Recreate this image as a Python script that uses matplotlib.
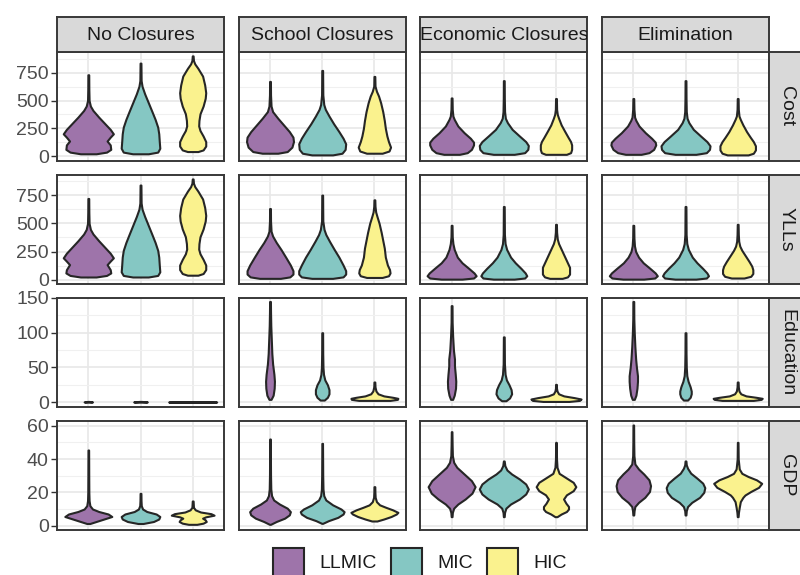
import matplotlib
matplotlib.use('Agg')
import matplotlib.pyplot as plt
from matplotlib.patches import Rectangle
import numpy as np

plt.rcParams['font.family'] = ['Liberation Sans', 'DejaVu Sans']

scenarios = ['No Closures', 'School Closures', 'Economic Closures', 'Elimination']
metrics = ['Cost', 'YLLs', 'Education', 'GDP']
groups = ['LLMIC', 'MIC', 'HIC']
colors = ['#9E74AA', '#85C7C3', '#FAF28E']

# violin outlines: y levels and half-widths (x units), per group
cost_nc_y = [[20, 35, 60, 100, 135, 170, 200, 240, 290, 350, 410, 450, 500, 600, 732],
             [20, 35, 70, 130, 200, 260, 330, 400, 480, 560, 628, 680, 760, 837],
             [40, 55, 90, 130, 180, 230, 271, 320, 380, 450, 520, 570, 640, 720, 790, 830, 860, 902]]
cost_nc_w = [[0.15, 0.35, 0.43, 0.42, 0.36, 0.42, 0.48, 0.42, 0.32, 0.2, 0.09, 0.04, 0.015, 0.01, 0.008],
             [0.15, 0.33, 0.37, 0.36, 0.35, 0.33, 0.28, 0.22, 0.15, 0.08, 0.03, 0.012, 0.01, 0.008],
             [0.1, 0.2, 0.25, 0.25, 0.2, 0.14, 0.115, 0.12, 0.14, 0.2, 0.24, 0.25, 0.23, 0.19, 0.1, 0.04, 0.015, 0.008]]
cost_sc_y = [[25, 40, 80, 130, 170, 220, 280, 340, 400, 450, 550, 672],
             [10, 25, 60, 110, 160, 220, 290, 360, 420, 464, 550, 650, 771],
             [25, 45, 80, 130, 180, 250, 320, 400, 480, 540, 583, 630, 717]]
cost_sc_w = [[0.15, 0.33, 0.42, 0.45, 0.44, 0.37, 0.26, 0.15, 0.05, 0.02, 0.01, 0.008],
             [0.2, 0.38, 0.44, 0.45, 0.4, 0.32, 0.22, 0.13, 0.06, 0.03, 0.012, 0.01, 0.008],
             [0.15, 0.28, 0.31, 0.27, 0.24, 0.21, 0.19, 0.16, 0.12, 0.08, 0.04, 0.012, 0.008]]
cost_ec_y = [[15, 30, 60, 100, 125, 160, 210, 270, 330, 360, 420, 523],
             [15, 30, 60, 95, 130, 180, 240, 300, 340, 400, 520, 679],
             [15, 30, 60, 100, 130, 170, 220, 280, 340, 375, 420, 518]]
cost_ec_w = [[0.15, 0.3, 0.38, 0.42, 0.42, 0.36, 0.24, 0.12, 0.05, 0.025, 0.012, 0.008],
             [0.2, 0.4, 0.46, 0.47, 0.42, 0.3, 0.16, 0.07, 0.03, 0.015, 0.01, 0.008],
             [0.2, 0.28, 0.3, 0.3, 0.28, 0.23, 0.17, 0.1, 0.05, 0.025, 0.012, 0.008]]
cost_el_y = [[15, 30, 60, 100, 125, 160, 210, 270, 320, 350, 420, 518],
             [15, 30, 60, 92, 130, 180, 240, 300, 340, 400, 520, 679],
             [10, 25, 55, 92, 130, 170, 220, 280, 330, 360, 420, 518]]
cost_el_w = [[0.15, 0.3, 0.39, 0.43, 0.42, 0.35, 0.23, 0.11, 0.05, 0.025, 0.012, 0.008],
             [0.2, 0.4, 0.46, 0.47, 0.41, 0.29, 0.15, 0.065, 0.03, 0.015, 0.01, 0.008],
             [0.2, 0.3, 0.34, 0.34, 0.3, 0.24, 0.17, 0.1, 0.05, 0.025, 0.012, 0.008]]

yll_nc_y = [[24, 38, 60, 89, 134, 165, 194, 235, 285, 345, 405, 446, 500, 600, 720],
            [24, 38, 70, 130, 200, 260, 330, 400, 480, 560, 625, 680, 760, 839],
            [40, 55, 90, 130, 180, 230, 271, 320, 380, 450, 520, 570, 640, 715, 785, 825, 855, 893]]
yll_nc_w = cost_nc_w
yll_sc_y = [[12, 25, 50, 80, 130, 200, 268, 330, 387, 430, 520, 631],
            [12, 25, 50, 80, 130, 200, 268, 340, 400, 446, 520, 620, 750],
            [20, 35, 60, 90, 130, 200, 280, 350, 420, 500, 560, 600, 650, 708]]
yll_sc_w = [[0.2, 0.38, 0.44, 0.44, 0.39, 0.3, 0.21, 0.12, 0.05, 0.02, 0.01, 0.008],
            [0.2, 0.4, 0.45, 0.45, 0.4, 0.32, 0.23, 0.14, 0.07, 0.035, 0.012, 0.01, 0.008],
            [0.15, 0.27, 0.3, 0.29, 0.25, 0.21, 0.19, 0.16, 0.13, 0.09, 0.05, 0.025, 0.012, 0.008]]
yll_ec_y = [[5, 15, 35, 60, 100, 150, 200, 268, 320, 380, 482],
            [5, 15, 35, 60, 100, 150, 200, 268, 320, 400, 520, 649],
            [12, 25, 50, 80, 110, 150, 200, 260, 320, 360, 420, 491]]
yll_ec_w = [[0.2, 0.42, 0.47, 0.43, 0.33, 0.2, 0.11, 0.05, 0.025, 0.012, 0.008],
            [0.2, 0.4, 0.44, 0.41, 0.33, 0.22, 0.13, 0.055, 0.025, 0.012, 0.01, 0.008],
            [0.12, 0.22, 0.26, 0.26, 0.26, 0.22, 0.17, 0.11, 0.05, 0.025, 0.012, 0.008]]
yll_el_y = [[5, 15, 35, 60, 100, 150, 200, 250, 300, 370, 482],
            [5, 15, 35, 60, 100, 150, 200, 268, 320, 400, 520, 649],
            [15, 30, 55, 89, 120, 160, 210, 260, 298, 340, 400, 491]]
yll_el_w = [[0.2, 0.41, 0.46, 0.42, 0.32, 0.19, 0.1, 0.045, 0.022, 0.012, 0.008],
            [0.2, 0.4, 0.44, 0.41, 0.33, 0.22, 0.13, 0.055, 0.025, 0.012, 0.01, 0.008],
            [0.12, 0.25, 0.29, 0.29, 0.27, 0.22, 0.15, 0.08, 0.04, 0.02, 0.012, 0.008]]

edu_nc_y = [[0, 0.3, 0.6, 1.0], [0, 0.3, 0.6, 1.0], [0, 0.2, 0.4]]
edu_nc_w = [[0.05, 0.08, 0.06, 0.01], [0.1, 0.13, 0.1, 0.02], [0.44, 0.46, 0.3]]
edu_sc_y = [[4, 10, 20, 30, 40, 55, 70, 90, 110, 130, 145],
            [3, 7, 12, 18, 25, 32, 40, 50, 70, 100],
            [2.5, 4, 5.5, 7, 9, 12, 16, 22, 29]]
edu_sc_w = [[0.02, 0.06, 0.08, 0.085, 0.075, 0.05, 0.035, 0.025, 0.015, 0.01, 0.008],
            [0.04, 0.1, 0.13, 0.13, 0.1, 0.05, 0.025, 0.015, 0.01, 0.008],
            [0.3, 0.44, 0.45, 0.35, 0.18, 0.07, 0.03, 0.012, 0.008]]
edu_ec_y = [[4, 10, 20, 30, 40, 52, 62, 75, 95, 115, 139],
            [2, 6, 12, 18, 25, 32, 40, 55, 75, 94],
            [1, 2.5, 4.5, 6.5, 9, 12, 16, 20, 25.6]]
edu_ec_w = [[0.02, 0.05, 0.075, 0.08, 0.07, 0.055, 0.055, 0.035, 0.02, 0.01, 0.008],
            [0.04, 0.11, 0.15, 0.14, 0.1, 0.05, 0.025, 0.012, 0.01, 0.008],
            [0.25, 0.45, 0.48, 0.35, 0.15, 0.05, 0.02, 0.01, 0.008]]
edu_el_y = [[4, 10, 20, 30, 38, 50, 62, 80, 100, 120, 145],
            [3, 7, 12, 16, 22, 30, 38, 50, 70, 100],
            [2.5, 4, 5.5, 7, 9, 12, 16, 22, 29]]
edu_el_w = [[0.02, 0.05, 0.07, 0.08, 0.08, 0.06, 0.045, 0.03, 0.018, 0.01, 0.008],
            [0.04, 0.09, 0.11, 0.11, 0.09, 0.05, 0.025, 0.015, 0.01, 0.008],
            [0.3, 0.45, 0.47, 0.35, 0.16, 0.06, 0.025, 0.012, 0.008]]

gdp_nc_y = [[1.3, 2.5, 4, 5.5, 7, 8.5, 10, 12, 15, 20, 30, 45.4],
            [1.3, 2.5, 4, 5.5, 7, 8.5, 10, 12, 15, 19.4],
            [0.8, 1.5, 2.5, 3.5, 4.5, 5.3, 6.3, 7.2, 8.2, 9.5, 11, 14.8]]
gdp_nc_w = [[0.03, 0.15, 0.3, 0.45, 0.38, 0.2, 0.08, 0.03, 0.015, 0.01, 0.008, 0.006],
            [0.05, 0.25, 0.35, 0.37, 0.3, 0.12, 0.04, 0.015, 0.01, 0.008],
            [0.08, 0.2, 0.26, 0.24, 0.19, 0.25, 0.41, 0.35, 0.15, 0.05, 0.015, 0.008]]
gdp_sc_y = [[0.8, 2.5, 4.5, 6.5, 8.4, 10.5, 13, 15.4, 18, 22, 30, 40, 52],
            [1.4, 3, 5, 7, 8.4, 10, 12.5, 15.4, 18, 22, 30, 40, 49.4],
            [2.8, 4, 5.5, 7, 8, 9.5, 11, 12.5, 14.4, 17, 20, 23.4]]
gdp_sc_w = [[0.01, 0.12, 0.28, 0.37, 0.39, 0.33, 0.18, 0.07, 0.03, 0.015, 0.01, 0.008, 0.006],
            [0.01, 0.12, 0.3, 0.4, 0.42, 0.36, 0.2, 0.07, 0.03, 0.015, 0.01, 0.008, 0.006],
            [0.05, 0.18, 0.32, 0.42, 0.45, 0.35, 0.22, 0.1, 0.04, 0.015, 0.01, 0.008]]
gdp_ec_y = [[5.4, 8, 10.5, 13, 16, 19.5, 23.4, 27, 31, 35, 38, 42, 48, 56.4],
            [5.4, 8, 10.5, 13, 16, 19, 22, 25, 28, 31, 33.4, 36, 38.8],
            [5.4, 7, 8.5, 10, 11.5, 13.5, 16, 18.5, 21, 23.4, 26, 29, 31.4, 35, 40, 50]]
gdp_ec_w = [[0.008, 0.015, 0.04, 0.12, 0.26, 0.39, 0.45, 0.38, 0.24, 0.1, 0.04, 0.015, 0.01, 0.006],
            [0.008, 0.015, 0.04, 0.13, 0.3, 0.42, 0.47, 0.42, 0.3, 0.15, 0.06, 0.02, 0.008],
            [0.02, 0.1, 0.2, 0.24, 0.24, 0.19, 0.145, 0.2, 0.33, 0.38, 0.33, 0.18, 0.06, 0.02, 0.01, 0.006]]
gdp_el_y = [[6.4, 9, 11.5, 14, 17, 20.5, 24, 27.5, 31, 34, 37, 42, 50, 60.4],
            [6.4, 9, 11.5, 14, 17, 20, 22.8, 25.5, 28.5, 31.5, 34.4, 36.5, 38.8],
            [5.4, 8, 11, 14.4, 17, 18.4, 20.5, 23, 25.4, 27.5, 29.5, 31.4, 34, 40, 50]]
gdp_el_w = [[0.008, 0.015, 0.03, 0.1, 0.22, 0.31, 0.33, 0.3, 0.2, 0.1, 0.03, 0.012, 0.008, 0.006],
            [0.008, 0.015, 0.04, 0.12, 0.27, 0.35, 0.37, 0.33, 0.22, 0.1, 0.04, 0.015, 0.008],
            [0.008, 0.015, 0.03, 0.05, 0.1, 0.14, 0.25, 0.4, 0.46, 0.36, 0.2, 0.08, 0.03, 0.01, 0.006]]

panels = [
    [(cost_nc_y, cost_nc_w), (cost_sc_y, cost_sc_w), (cost_ec_y, cost_ec_w), (cost_el_y, cost_el_w)],
    [(yll_nc_y, yll_nc_w), (yll_sc_y, yll_sc_w), (yll_ec_y, yll_ec_w), (yll_el_y, yll_el_w)],
    [(edu_nc_y, edu_nc_w), (edu_sc_y, edu_sc_w), (edu_ec_y, edu_ec_w), (edu_el_y, edu_el_w)],
    [(gdp_nc_y, gdp_nc_w), (gdp_sc_y, gdp_sc_w), (gdp_ec_y, gdp_ec_w), (gdp_el_y, gdp_el_w)],
]

row_ylim = [(-45, 937), (-38, 928), (-7, 150), (-2.6, 62.8)]
row_ticks = [[0, 250, 500, 750], [0, 250, 500, 750], [0, 50, 100, 150], [0, 20, 40, 60]]
row_minor = [[125, 375, 625, 875], [125, 375, 625, 875], [25, 75, 125], [10, 30, 50]]

W, H = 800, 575
fig = plt.figure(figsize=(W / 100, H / 100), dpi=100)
fig.patch.set_facecolor('white')

def rect(x, y, w, h):
    return [x / W, 1 - (y + h) / H, w / W, h / H]

col_left = [57, 238.7, 420.3, 602]
row_top = [52, 175, 298, 421]
pw, ph = 167, 109
strip = 35
border = '#383838'
fs = 14

for r in range(4):
    for c in range(4):
        ax = fig.add_axes(rect(col_left[c], row_top[r], pw, ph))
        ax.set_xlim(0.4, 3.6)
        ax.set_ylim(*row_ylim[r])
        ax.set_yticks(row_ticks[r])
        ax.set_yticks(row_minor[r], minor=True)
        ax.set_xticks([1, 2, 3])
        ax.grid(True, which='major', color='#E8E8E8', linewidth=1.2, zorder=0)
        ax.grid(True, which='minor', axis='y', color='#F0F0F0', linewidth=0.8, zorder=0)
        ax.set_axisbelow(True)
        ys, ws = panels[r][c]
        stats = []
        for yv, wv in zip(ys, ws):
            stats.append({'coords': yv, 'vals': wv, 'mean': np.mean(yv),
                          'median': np.median(yv), 'min': min(yv), 'max': max(yv)})
        widths = [2 * max(wv) for wv in ws]
        parts = ax.violin(stats, positions=[1, 2, 3], widths=widths, showextrema=False)
        for body, col in zip(parts['bodies'], colors):
            body.set_facecolor(col)
            body.set_edgecolor('#262626')
            body.set_linewidth(1.5)
            body.set_alpha(1)
            body.set_zorder(3)
        ax.tick_params(axis='x', length=0, labelbottom=False)
        ax.tick_params(axis='y', which='minor', length=0)
        if c == 0:
            ax.tick_params(axis='y', which='major', length=4, width=1, color='#333333',
                           labelsize=fs, labelcolor='#4D4D4D', pad=2)
        else:
            ax.tick_params(axis='y', which='major', length=0, labelleft=False)
        for sp in ax.spines.values():
            sp.set_color(border)
            sp.set_linewidth(1.4)
            sp.set_zorder(5)

# top strips
for c in range(4):
    sax = fig.add_axes(rect(col_left[c], row_top[0] - strip, pw, strip))
    sax.set_facecolor('#D9D9D9')
    sax.set_xticks([]); sax.set_yticks([])
    for sp in sax.spines.values():
        sp.set_color(border); sp.set_linewidth(1.4)
    sax.text(0.5, 0.48, scenarios[c], transform=sax.transAxes, ha='center', va='center',
             fontsize=fs, color='#1A1A1A', clip_on=True)

# right strips
for r in range(4):
    sax = fig.add_axes(rect(col_left[3] + pw, row_top[r], strip, ph))
    sax.set_facecolor('#D9D9D9')
    sax.set_xticks([]); sax.set_yticks([])
    for sp in sax.spines.values():
        sp.set_color(border); sp.set_linewidth(1.4)
    sax.text(0.5, 0.5, metrics[r], transform=sax.transAxes, ha='center', va='center',
             rotation=270, fontsize=fs, color='#1A1A1A', clip_on=True)

# legend at the bottom
key_x = [273, 391, 487]
for kx, g, col in zip(key_x, groups, colors):
    fig.add_artist(Rectangle((kx / W, 1 - (548 + 31) / H), 31 / W, 31 / H,
                             transform=fig.transFigure, facecolor=col,
                             edgecolor='#262626', linewidth=1.5))
    fig.text((kx + 46) / W, 1 - 563 / H, g, ha='left', va='center', fontsize=fs,
             color='#1A1A1A')

fig.savefig('out.png', dpi=100, facecolor='white')
